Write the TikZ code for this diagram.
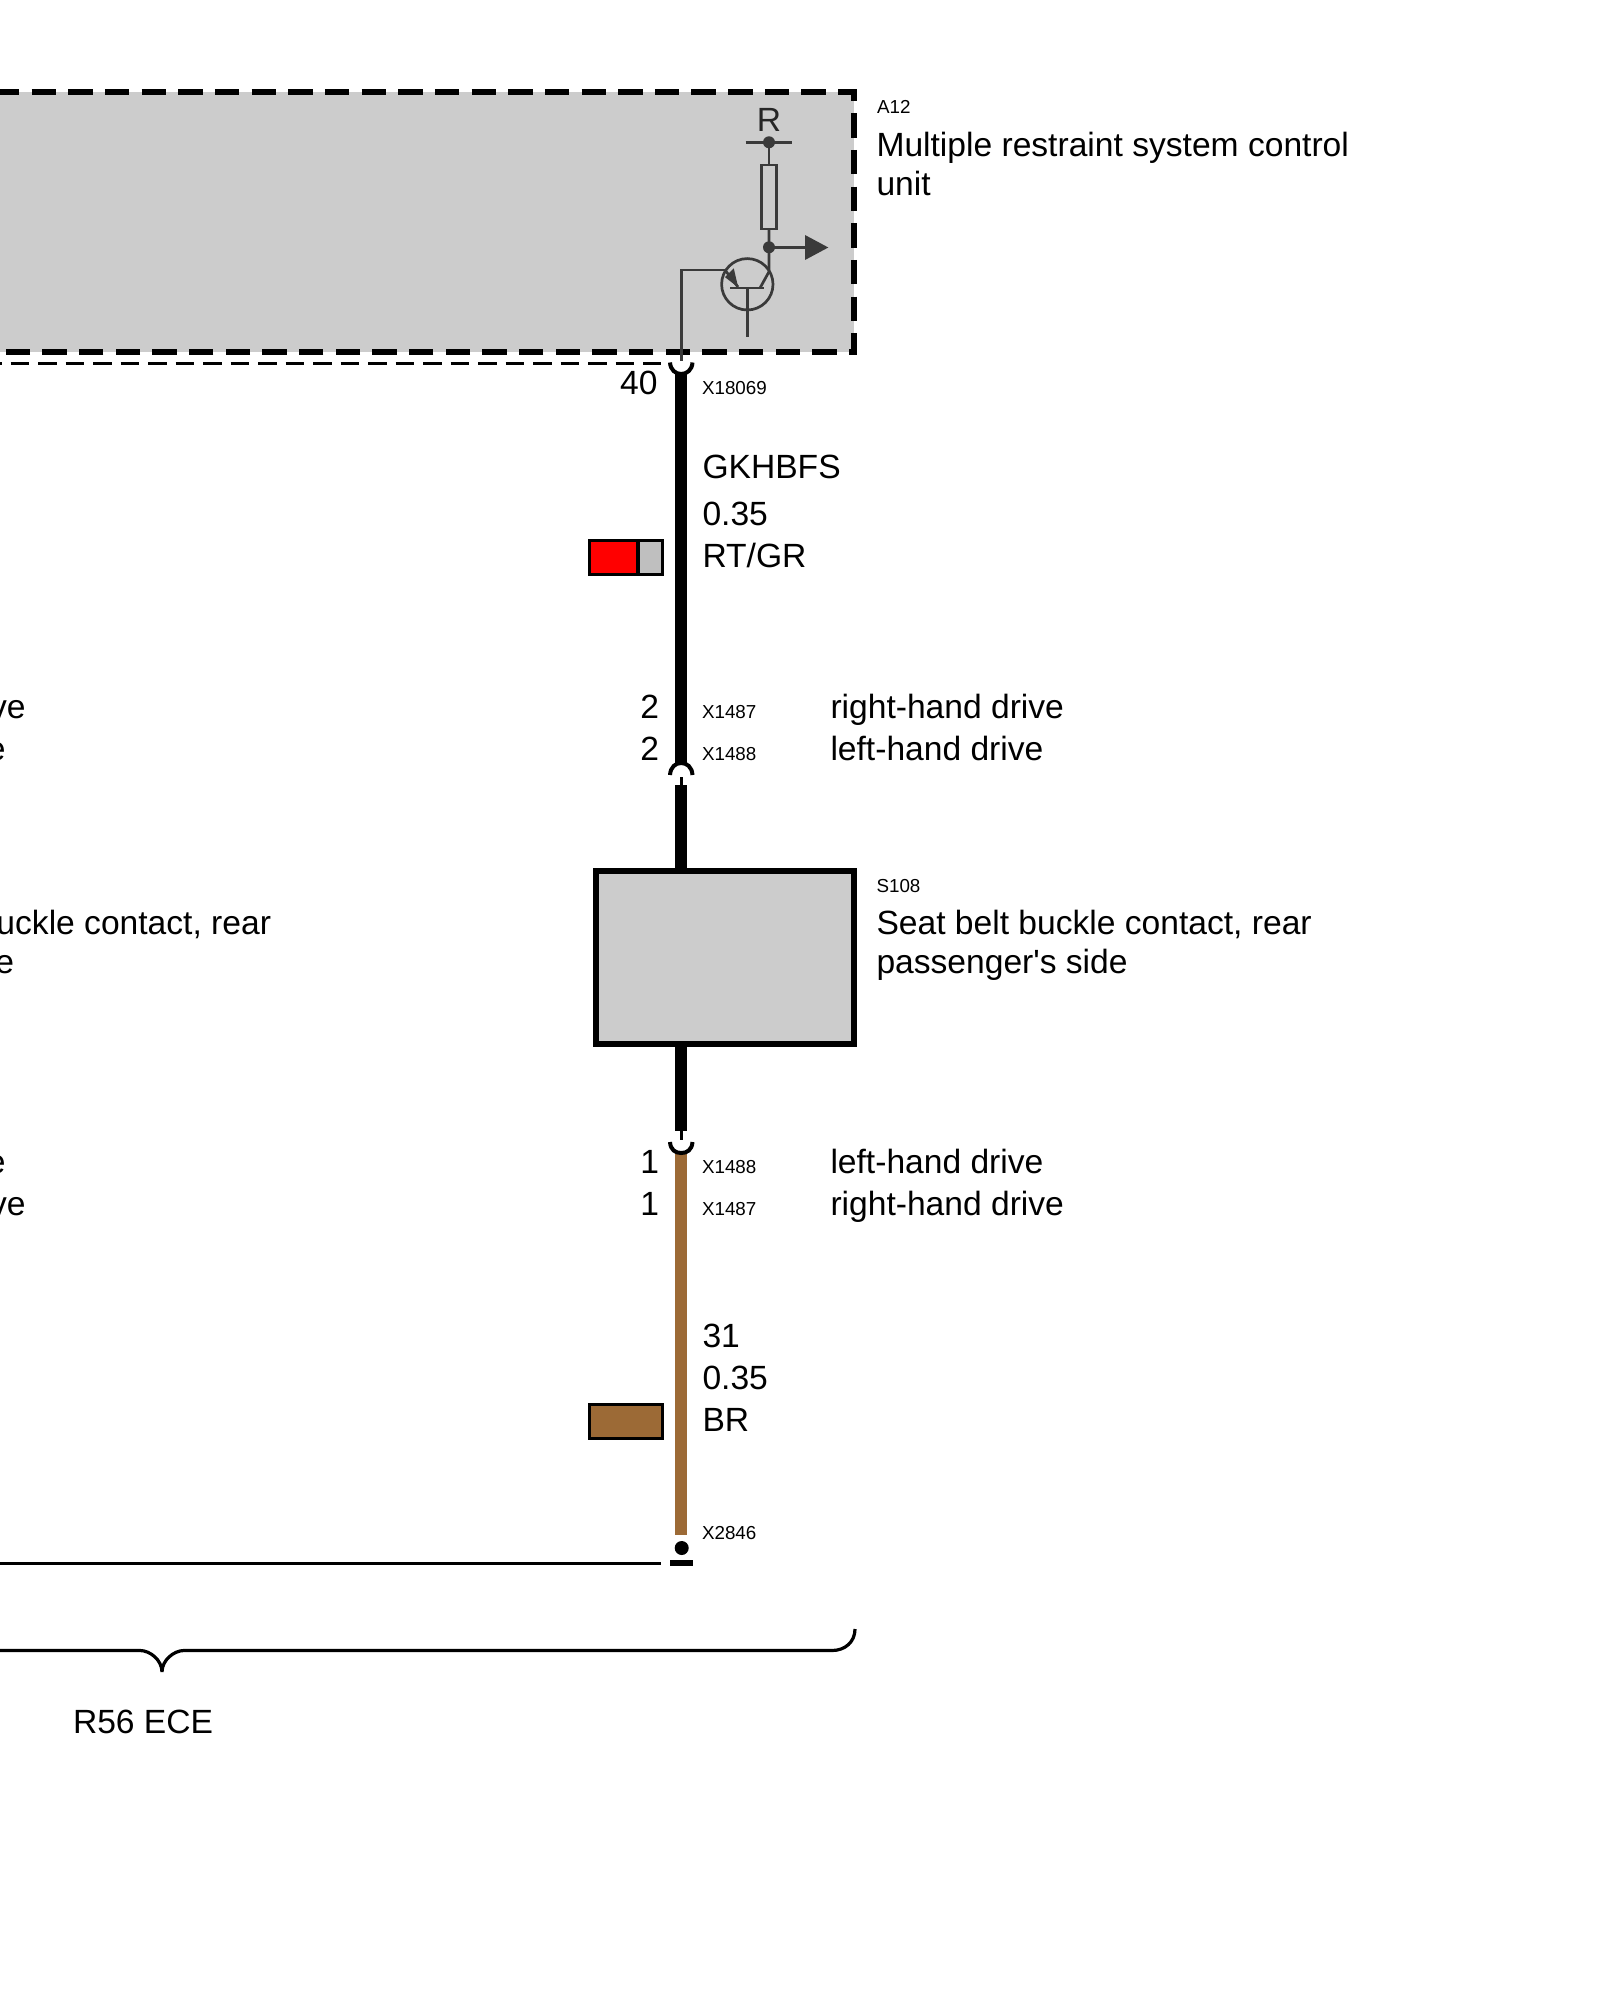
\documentclass[tikz,border=0pt]{standalone}
\usepackage{fontspec}
\setmainfont[Ligatures=TeXOff]{Liberation Sans}
\definecolor{boxgray}{gray}{0.8}
\definecolor{symcol}{HTML}{3A3A3A}
\definecolor{wirebrown}{HTML}{9C6A36}
\tikzset{
  big/.style={anchor=base west,inner sep=0pt,outer sep=0pt,font=\fontsize{16.8pt}{16.8pt}\selectfont,text=black},
  bigr/.style={big,anchor=base east},
  small/.style={anchor=base west,inner sep=0pt,outer sep=0pt,font=\fontsize{9.4pt}{9.4pt}\selectfont,text=black},
  sym/.style={draw=symcol,line width=1.35pt},
  wirek/.style={draw=black,line width=6pt},
  wireb/.style={draw=wirebrown,line width=6pt},
  stub/.style={draw=black,line width=1.5pt},
  socket/.style={draw=black,line width=2pt},
  swatch/.style={draw=black,line width=1.7pt},
}
\begin{document}
\begin{tikzpicture}[x=0.5pt,y=-0.5pt]
\useasboundingbox (0,0) rectangle (1600,2000);
\clip (0,0) rectangle (1600,2000);
% control unit box
\fill[boxgray] (0,92.5) rectangle (854,352.5);
\draw[black,line width=3pt,dash pattern=on 12.22pt off 6.11pt] (-5.06,92.5) -- (854,92.5) -- (854,352.5) -- (-5,352.5);
\draw[black,line width=1.5pt,dash pattern=on 9.25pt off 4.5pt] (-16.83,363.7) -- (661,363.7);
% circuit symbol
\coordinate (pin) at (681.2,361);
\coordinate (emk) at (681.2,270);
\coordinate (eme) at (725,270);
\node[circle,sym,minimum size=51.4*0.5pt,inner sep=0pt] (tr) at (747.3,284.3) {};
\draw[sym] (pin) -- (emk) -- (eme);
\coordinate (emtip) at (738,287);
\draw[sym,fill=symcol] (733,271) -- (727,277) -- (736,284) -- cycle;
\draw[sym] (eme) -- (emtip);
\draw[sym] (730,288) -- (764,288);
\draw[sym] (747.3,288) -- (747.3,336.7);
\coordinate (top) at (769,142.3);
\coordinate (mid) at (769,247.3);
\draw[sym] (760,288) -- (769,271.7) -- (mid) -- (769,229);
\node[draw=symcol,line width=1.35pt,fill=none,minimum width=15.5*0.5pt,minimum height=64*0.5pt,inner sep=0pt] (res) at (769,197) {};
\draw[sym] (res.north) -- (top);
\draw[sym] (745.7,142.3) -- (792.3,142.3);
\fill[symcol] (top) circle (6);
\fill[symcol] (mid) circle (6);
\draw[sym] (mid) -- (806,247.3);
\fill[symcol] (805,235) -- (828.3,247.5) -- (805,260) -- cycle;
\node[anchor=base,inner sep=0pt,font=\fontsize{16.8pt}{16.8pt}\selectfont,text=black!85] (rlab) at (769,132) {R};
% wires
\draw[wirek] (681.2,372) -- (681.2,763);
\draw[stub] (681.2,777) -- (681.2,785);
\draw[wirek] (681.2,785) -- (681.2,872);
\draw[wirek] (681.2,1044) -- (681.2,1131);
\draw[stub] (681.2,1131) -- (681.2,1140);
\draw[wireb] (681.2,1153) -- (681.2,1535);
% sockets
\draw[socket] (670,362.5) .. controls (670.5,370) and (675.5,374) .. (681.2,374) .. controls (686.9,374) and (692,370) .. (692.5,362.5);
\draw[socket] (670,775) .. controls (670.5,767) and (675.5,763) .. (681.2,763) .. controls (686.9,763) and (692,767) .. (692.5,775);
\draw[socket] (670,1142) .. controls (670.5,1150) and (675.5,1153) .. (681.2,1153) .. controls (686.9,1153) and (692,1150) .. (692.5,1142);
% ground
\fill[black] (681.7,1548) circle (7);
\fill[black] (670,1560) rectangle (692.7,1566);
\draw[black,line width=1.75pt] (0,1563.5) -- (661,1563.5);
% switch box
\node[draw=black,fill=boxgray,line width=3pt,anchor=north west,minimum width=258.5*0.5pt,minimum height=173*0.5pt,inner sep=0pt,outer sep=0pt] (s108) at (595.7,871) {};
% swatches
\fill[red] (589.5,540.5) rectangle (638,574.5);
\fill[gray!50!white] (638,540.5) rectangle (662.5,574.5);
\draw[swatch] (589.5,540.5) rectangle (662.5,574.5);
\draw[swatch] (638,540.5) -- (638,574.5);
\draw[swatch,fill=wirebrown] (589.5,1404.5) rectangle (662.5,1438.5);
% brace
\draw[black,line width=1.6pt,line join=bevel] (0,1650.5) -- (140,1650.5) .. controls (150,1650.5) and (162,1660) .. (162,1672) .. controls (162,1660) and (174,1650.5) .. (184,1650.5) -- (832,1650.5) .. controls (845,1650.5) and (855,1642) .. (855,1629);
% texts
\node[small] (a12) at (877,113.5) {A12};
\node[big] (a12a) at (876.5,157) {Multiple restraint system control};
\node[big] (a12b) at (876.5,196) {unit};
\node[bigr] (p40) at (657.5,395) {40};
\node[small] (x18069) at (702,395) {X18069};
\node[big] (w1) at (702.5,478.5) {GKHBFS};
\node[big] (w2) at (702.5,525) {0.35};
\node[big] (w3) at (702.5,567) {RT/GR};
\node[bigr] (p2a) at (659,718) {2};
\node[bigr] (p2b) at (659,760) {2};
\node[small] (x1487a) at (702,718) {X1487};
\node[small] (x1488a) at (702,760) {X1488};
\node[big] (rhd1) at (830.5,718) {right-hand drive};
\node[big] (lhd1) at (830.5,760) {left-hand drive};
\node[bigr] (lhd1l) at (25.5,718) {ve};
\node[bigr] (lhd2l) at (5.5,760) {e};
\node[small] (s108a) at (876.5,892.5) {S108};
\node[big] (s108b) at (876.5,934) {Seat belt buckle contact, rear};
\node[big] (s108c) at (876.5,973.5) {passenger's side};
\node[bigr] (s108l) at (271,934) {uckle contact, rear};
\node[bigr] (s108m) at (14,973.5) {e};
\node[bigr] (p1a) at (659,1173) {1};
\node[bigr] (p1b) at (659,1215) {1};
\node[small] (x1488b) at (702,1173) {X1488};
\node[small] (x1487b) at (702,1215) {X1487};
\node[big] (lhd2) at (830.5,1173) {left-hand drive};
\node[big] (rhd2) at (830.5,1215) {right-hand drive};
\node[bigr] (lhd3l) at (5.5,1173) {e};
\node[bigr] (rhd3l) at (25.5,1215) {ve};
\node[big] (w4) at (702.5,1347) {31};
\node[big] (w5) at (702.5,1389) {0.35};
\node[big] (w6) at (702.5,1431.5) {BR};
\node[small] (x2846) at (702,1539) {X2846};
\node[big] (ece) at (73,1733) {R56 ECE};
\end{tikzpicture}
\end{document}
